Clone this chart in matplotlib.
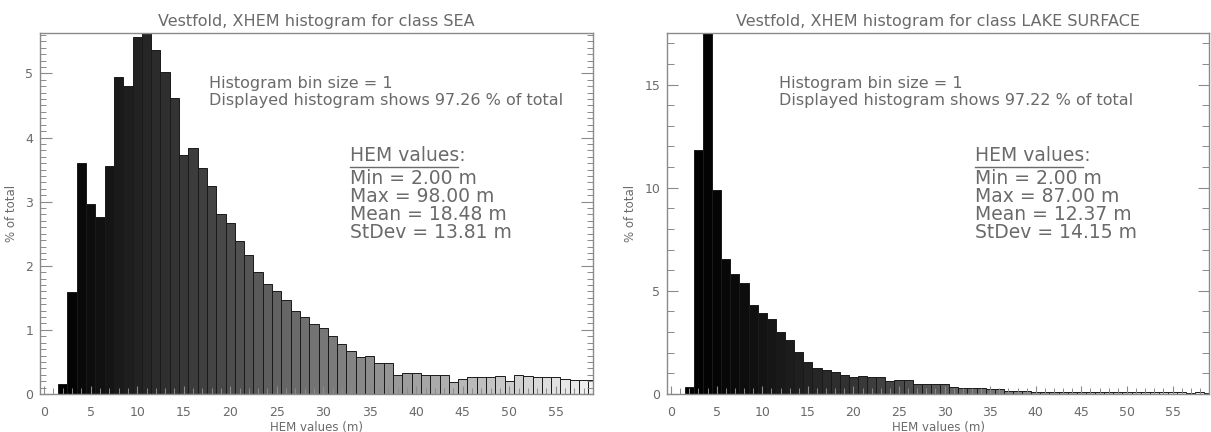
import numpy as np
import matplotlib
matplotlib.use("Agg")
import matplotlib.pyplot as plt
from matplotlib.ticker import MultipleLocator

# HEM bin centres (bin size = 1 m)
hem_sea = list(range(2, 60))
pct_sea = [0.15, 1.59, 3.61, 2.97, 2.76, 3.55, 4.95, 4.80, 5.56, 5.70,
           5.37, 5.02, 4.61, 3.72, 3.83, 3.53, 3.25, 2.81, 2.66, 2.38,
           2.17, 1.91, 1.72, 1.61, 1.47, 1.30, 1.20, 1.09, 1.03, 0.91,
           0.78, 0.67, 0.58, 0.59, 0.49, 0.48, 0.30, 0.32, 0.32, 0.30,
           0.29, 0.29, 0.19, 0.24, 0.26, 0.27, 0.27, 0.28, 0.21, 0.29,
           0.28, 0.27, 0.26, 0.27, 0.24, 0.22, 0.22, 0.22]

hem_lake = list(range(2, 60))
pct_lake = [0.34, 11.85, 17.80, 9.87, 6.55, 5.84, 5.38, 4.33, 3.92, 3.62,
            3.02, 2.62, 2.05, 1.55, 1.28, 1.14, 1.06, 0.94, 0.84, 0.89,
            0.84, 0.80, 0.65, 0.70, 0.70, 0.50, 0.50, 0.50, 0.50, 0.34,
            0.29, 0.29, 0.29, 0.23, 0.23, 0.16, 0.14, 0.13, 0.12, 0.11,
            0.11, 0.10, 0.10, 0.10, 0.09, 0.10, 0.12, 0.10, 0.09, 0.09,
            0.08, 0.09, 0.08, 0.08, 0.08, 0.07, 0.08, 0.07]

titles = ["Vestfold, XHEM histogram for class SEA",
          "Vestfold, XHEM histogram for class LAKE SURFACE"]
shown_pct = ["97.26", "97.22"]
stats = [["Min = 2.00 m", "Max = 98.00 m", "Mean = 18.48 m", "StDev = 13.81 m"],
         ["Min = 2.00 m", "Max = 87.00 m", "Mean = 12.37 m", "StDev = 14.15 m"]]

txt = "#6a6a6a"
axc = "#8a8a8a"

fig = plt.figure(figsize=(12.11, 4.32), dpi=100)
ax1 = fig.add_axes([40 / 1211, 38 / 432, 553 / 1211, 361 / 432])
ax2 = fig.add_axes([667 / 1211, 38 / 432, 542 / 1211, 361 / 432])

panels = [
    (ax1, hem_sea, pct_sea, 5.63, 1, 0.1, 1.0, 8.5, 4.5, 0.3056, 0.5606, 0.7559),
    (ax2, hem_lake, pct_lake, 17.5, 5, 1, 1.3, 8.0, 5.0, 0.2066, 0.568, 0.768),
]

for i, (ax, x, y, ytop, ymaj, ymin, gam, ymajlen, yminlen, tx, sx, ux) in enumerate(panels):
    xs = np.array(x)
    grey = np.clip((xs - 2) / 60.0, 0, 1) ** gam
    cols = [(g, g, g) for g in grey]
    ax.bar(xs, y, width=1.0, color=cols, edgecolor="#1a1a1a", linewidth=0.7)

    ax.set_xlim(-0.45, 59.0)
    ax.set_ylim(0, ytop)
    ax.xaxis.set_major_locator(MultipleLocator(5))
    ax.xaxis.set_minor_locator(MultipleLocator(1))
    ax.yaxis.set_major_locator(MultipleLocator(ymaj))
    ax.yaxis.set_minor_locator(MultipleLocator(ymin))
    ax.tick_params(axis="x", which="major", direction="in", length=6, width=0.8,
                   color=axc, labelcolor=txt, labelsize=9, pad=9)
    ax.tick_params(axis="x", which="minor", direction="in", length=4.5, width=0.7, color=axc)
    ax.tick_params(axis="y", which="major", direction="in", length=ymajlen, width=0.8,
                   color=axc, labelcolor=txt, labelsize=9, pad=5, right=True)
    ax.tick_params(axis="y", which="minor", direction="in", length=yminlen, width=0.7,
                   color=axc, right=True)
    for s in ax.spines.values():
        s.set_color(axc)
        s.set_linewidth(1.0)

    ax.set_title(titles[i], fontsize=11.5, color=txt, pad=5)
    ax.set_xlabel("HEM values (m)", fontsize=8.5, color=txt, labelpad=1)
    ax.set_ylabel("% of total", fontsize=8.5, color=txt, labelpad=5)

    ax.text(tx, 0.861, "Histogram bin size = 1", transform=ax.transAxes,
            fontsize=11.5, color=txt, va="center", ha="left")
    ax.text(tx, 0.812, "Displayed histogram shows " + shown_pct[i] + " % of total",
            transform=ax.transAxes, fontsize=11.5, color=txt, va="center", ha="left")
    ax.text(sx, 0.662, "HEM values:", transform=ax.transAxes,
            fontsize=13.5, color=txt, va="center", ha="left")
    ax.plot([sx, ux], [0.629, 0.629], transform=ax.transAxes, color=txt, lw=1.0)
    for k, s in enumerate(stats[i]):
        ax.text(sx, 0.598 - k * 0.0505, s, transform=ax.transAxes,
                fontsize=13.5, color=txt, va="center", ha="left")

fig.savefig("out.png", dpi=100)
